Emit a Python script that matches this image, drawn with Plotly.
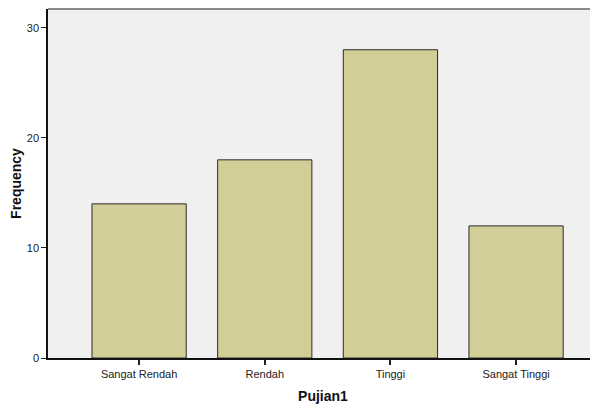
import plotly.graph_objects as go

categories = ["Sangat Rendah", "Rendah", "Tinggi", "Sangat Tinggi"]
frequency = [14, 18, 28, 12]
y_ticks = [0, 10, 20, 30]

fig = go.Figure(go.Bar(
    x=list(range(len(categories))),
    y=frequency,
    width=0.75,
    marker=dict(color="#D3CE97", line=dict(color="#2b2b2b", width=1)),
))

fig.update_layout(
    width=590, height=399,
    margin=dict(l=40, r=0, t=1, b=49),
    paper_bgcolor="white",
    plot_bgcolor="#F0F0F0",
    showlegend=False,
    font=dict(family="Liberation Sans, Arial, sans-serif", size=11, color="#222"),
)
fig.update_xaxes(
    tickmode="array", tickvals=list(range(len(categories))), ticktext=categories,
    range=[-0.725, 3.652],
    showgrid=False, zeroline=False,
    showline=True, linecolor="#111", linewidth=1.5,
    ticks="outside", ticklen=5, tickcolor="#222", tickwidth=1.5,
    tickfont=dict(size=11),
    title=dict(text="<b>Pujian1</b>", font=dict(size=14, color="#111"), standoff=12),
)
fig.update_yaxes(
    tickmode="array", tickvals=y_ticks,
    range=[0, 31.7],
    showgrid=False, zeroline=False,
    showline=True, linecolor="#111", linewidth=1.5,
    ticks="outside", ticklen=5, tickcolor="#222", tickwidth=1,
    tickfont=dict(size=11),
    title=dict(text="<b>Frequency</b>", font=dict(size=14, color="#111"), standoff=6),
)
fig.add_shape(type="line", xref="paper", yref="paper", x0=0, x1=1, y0=1, y1=1,
              line=dict(color="#8a8a8a", width=2))

fig.write_html("out.html")
